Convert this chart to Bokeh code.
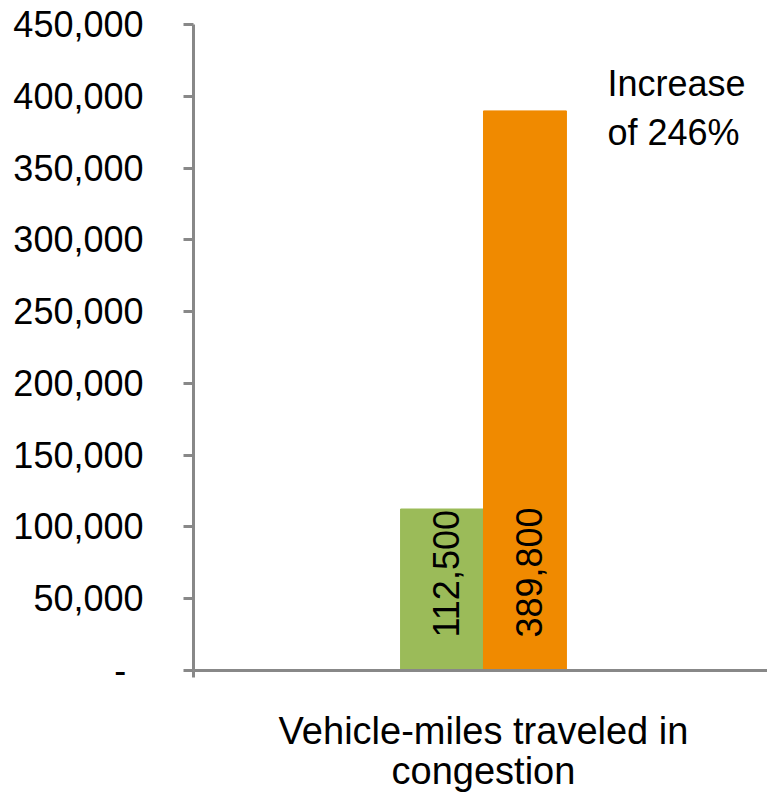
import math
from bokeh.plotting import figure
from bokeh.core.properties import value
from bokeh.models import (Range1d, FixedTicker, NumeralTickFormatter, Label,
                          ColumnDataSource, LabelSet)
from bokeh.embed import file_html
from bokeh.resources import INLINE

# ---- data ----
categories = ["Vehicle-miles traveled in\ncongestion"]
series = ["Before", "After"]
values = [112500, 389800]
colors = ["#9BBB59", "#F08A00"]
y_ticks = [0, 50000, 100000, 150000, 200000, 250000, 300000, 350000, 400000, 450000]
annotation = "Increase\nof 246%"

FONT = "Liberation Sans"
FS = "36px"
AXIS_COLOR = "#888888"

bar_w = 0.143
center = 0
xs = [center - bar_w / 2, center + bar_w / 2]

p = figure(width=767, height=794, output_backend="svg", toolbar_location=None,
           x_range=Range1d(-0.5, 0.4897), y_range=Range1d(0, y_ticks[-1]),
           min_border_left=193, min_border_right=0, min_border_top=24,
           min_border_bottom=124)
p.outline_line_color = None
p.xgrid.visible = False
p.ygrid.visible = False
p.background_fill_color = "white"
p.border_fill_color = "white"

src = ColumnDataSource(dict(x=xs, top=values, color=colors,
                            label=[f"{v:,}" for v in values], name=series))
p.vbar(x="x", top="top", bottom=0, width=bar_w, fill_color="color",
       line_color="color", source=src)

labels = LabelSet(x="x", y=0, text="label", source=src, angle=math.pi / 2,
                  text_align="left", text_baseline="middle", x_offset=4,
                  y_offset=33, text_font=value(FONT), text_font_size=value(FS),
                  text_color="black")
p.add_layout(labels)

ann = Label(x=0.2138, y=423000, text=annotation, text_font=FONT,
            text_font_size=FS, text_color="black", text_align="left",
            text_baseline="top", text_line_height=1.2)
p.add_layout(ann)

# y axis
ya = p.yaxis[0]
ya.ticker = FixedTicker(ticks=y_ticks)
ya.formatter = NumeralTickFormatter(format="0,0")
ya.major_label_overrides = {0: "-\u00a0\u2009"}
ya.major_label_text_font = FONT
ya.major_label_text_font_size = FS
ya.major_label_text_color = "black"
ya.major_label_standoff = 40
ya.major_tick_out = 10
ya.major_tick_in = 0
ya.minor_tick_out = 0
ya.minor_tick_in = 0
ya.axis_line_color = AXIS_COLOR
ya.axis_line_width = 3
ya.major_tick_line_color = AXIS_COLOR
ya.major_tick_line_width = 3

# x axis
xa = p.xaxis[0]
xa.ticker = FixedTicker(ticks=[center], minor_ticks=[-0.5])
xa.major_label_overrides = {center: categories[0]}
xa.major_label_text_font = FONT
xa.major_label_text_font_size = "38px"
xa.major_label_text_color = "black"
xa.major_label_text_line_height = 0.96
xa.major_label_standoff = 32
xa.major_tick_out = 0
xa.major_tick_in = 0
xa.minor_tick_out = 7
xa.minor_tick_in = 0
xa.minor_tick_line_color = AXIS_COLOR
xa.minor_tick_line_width = 3
xa.axis_line_color = AXIS_COLOR
xa.axis_line_width = 3

open("out.html", "w").write(file_html(p, INLINE))
